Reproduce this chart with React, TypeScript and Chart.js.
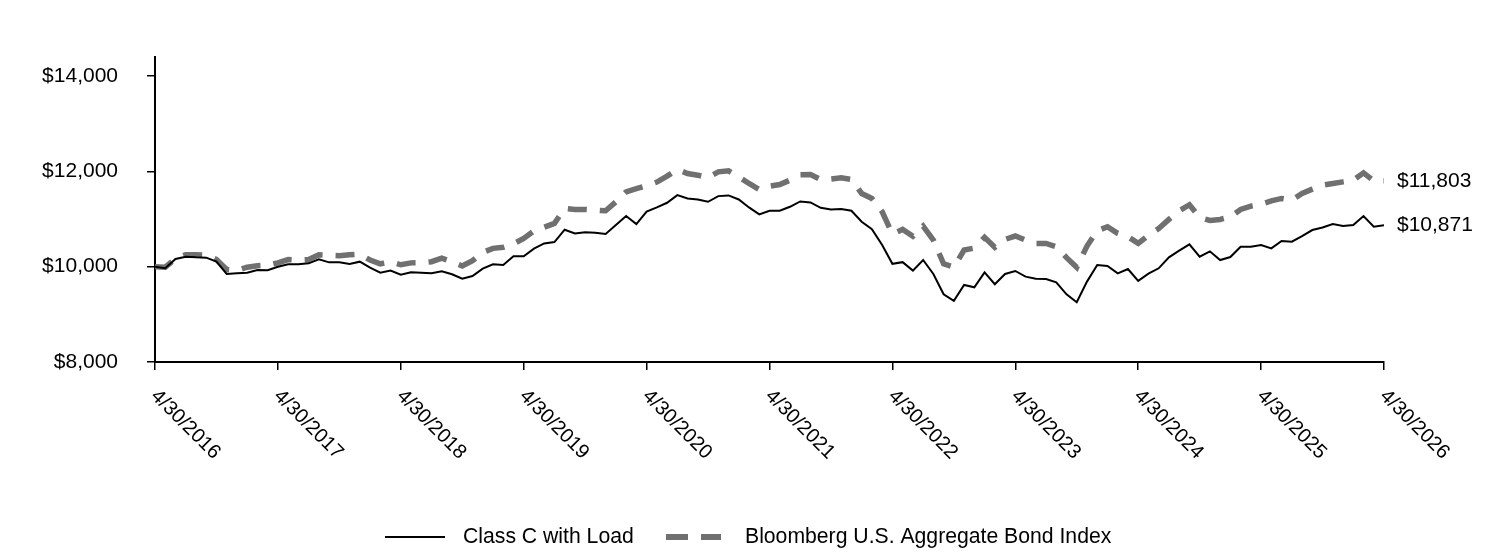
import React, { useEffect, useRef } from "react";
import { Chart, registerables } from "chart.js";

Chart.register(...registerables);

// ---- Data (monthly, 4/30/2016 .. 4/30/2026) ----
const classC: number[] = [
  10000, 9966, 10161, 10210, 10196, 10189, 10105, 9847, 9861, 9875, 9931, 9924,
  10000, 10050, 10050, 10070, 10154, 10091, 10091, 10057, 10105, 9980, 9875, 9917,
  9833, 9882, 9875, 9861, 9903, 9840, 9749, 9805, 9959, 10050, 10036, 10217,
  10217, 10378, 10489, 10517, 10776, 10699, 10720, 10713, 10685, 10873, 11062, 10894,
  11155, 11245, 11341, 11501, 11432, 11411, 11362, 11481, 11495, 11411, 11243, 11097,
  11173, 11173, 11257, 11369, 11348, 11236, 11201, 11208, 11173, 10943, 10789, 10454,
  10060, 10095, 9917, 10140, 9847, 9421, 9282, 9617, 9568, 9882, 9631, 9847,
  9910, 9791, 9749, 9743, 9673, 9421, 9254, 9687, 10036, 10015, 9861, 9952,
  9704, 9855, 9966, 10196, 10336, 10468, 10210, 10322, 10140, 10203, 10419, 10419,
  10454, 10385, 10538, 10524, 10643, 10769, 10824, 10894, 10852, 10873, 11062, 10838,
  10871,
];

const bloomberg: number[] = [
  10000, 9990, 10170, 10250, 10250, 10245, 10150, 9940, 9920, 9990, 10020, 10030,
  10080, 10150, 10140, 10150, 10250, 10240, 10230, 10250, 10260, 10140, 10060, 10100,
  10040, 10080, 10085, 10105, 10180, 10105, 10015, 10126, 10300, 10385, 10406, 10480,
  10594, 10748, 10830, 10908, 11222, 11200, 11201, 11187, 11173, 11360, 11571, 11640,
  11700, 11775, 11900, 12039, 11955, 11920, 11871, 11990, 12011, 11885, 11746, 11620,
  11690, 11725, 11816, 11930, 11934, 11830, 11840, 11864, 11830, 11536, 11432, 11152,
  10685, 10783, 10640, 10852, 10559, 10060, 9990, 10350, 10390, 10615, 10406, 10573,
  10643, 10559, 10489, 10489, 10420, 10189, 9987, 10434, 10755, 10838, 10699, 10629,
  10489, 10660, 10800, 10992, 11173, 11300, 11034, 10970, 10992, 11048, 11200, 11271,
  11313, 11380, 11432, 11397, 11536, 11627, 11711, 11746, 11780, 11815, 11969, 11802,
  11803,
];

const xTickLabels: string[] = [
  "4/30/2016", "4/30/2017", "4/30/2018", "4/30/2019", "4/30/2020", "4/30/2021",
  "4/30/2022", "4/30/2023", "4/30/2024", "4/30/2025", "4/30/2026",
];
const yTickValues: number[] = [8000, 10000, 12000, 14000];
const seriesNames: string[] = ["Class C with Load", "Bloomberg U.S. Aggregate Bond Index"];

const FONT = '"Liberation Sans", Arial, Helvetica, sans-serif';
const GRAY = "#707070";
const fmt = (v: number) => "$" + v.toLocaleString("en-US");

const textPlugin = {
  id: "customText",
  afterDraw(chart: any) {
    const ctx = chart.ctx as CanvasRenderingContext2D;
    const xs = chart.scales.x;
    const ys = chart.scales.y;
    const area = chart.chartArea;
    ctx.save();
    ctx.fillStyle = "#000";
    // rotated x labels
    ctx.font = `20px ${FONT}`;
    xTickLabels.forEach((lab, k) => {
      const px = xs.getPixelForValue(k * 12);
      ctx.save();
      ctx.translate(px - 1, area.bottom + 31);
      ctx.rotate(Math.PI / 4);
      ctx.textAlign = "left";
      ctx.textBaseline = "middle";
      ctx.fillText(lab, 0, 0);
      ctx.restore();
    });
    // end labels
    ctx.font = `21px ${FONT}`;
    ctx.textAlign = "left";
    ctx.textBaseline = "middle";
    ctx.fillText(fmt(bloomberg[bloomberg.length - 1]), area.right + 13, ys.getPixelForValue(bloomberg[bloomberg.length - 1]));
    ctx.fillText(fmt(classC[classC.length - 1]), area.right + 13, ys.getPixelForValue(classC[classC.length - 1]));
    // legend
    const ly = 537;
    ctx.font = `21.2px ${FONT}`;
    ctx.strokeStyle = "#000";
    ctx.lineWidth = 2;
    ctx.beginPath();
    ctx.moveTo(385, ly);
    ctx.lineTo(445, ly);
    ctx.stroke();
    ctx.fillText(seriesNames[0], 463, ly);
    ctx.strokeStyle = GRAY;
    ctx.lineWidth = 6;
    ctx.setLineDash([22, 13]);
    ctx.beginPath();
    ctx.moveTo(666, ly);
    ctx.lineTo(721, ly);
    ctx.stroke();
    ctx.setLineDash([]);
    ctx.fillText(seriesNames[1], 745, ly);
    ctx.restore();
  },
};

export default function App() {
  const ref = useRef<HTMLCanvasElement | null>(null);
  useEffect(() => {
    if (!ref.current) return;
    const chart = new Chart(ref.current, {
      type: "line",
      data: {
        datasets: [
          {
            label: seriesNames[0],
            data: classC.map((v, i) => ({ x: i, y: v })),
            borderColor: "#000",
            borderWidth: 2,
            pointRadius: 0,
            tension: 0,
            fill: false,
            order: 1,
          },
          {
            label: seriesNames[1],
            data: bloomberg.map((v, i) => ({ x: i, y: v })),
            borderColor: GRAY,
            borderWidth: 5.5,
            borderDash: [19, 13],
            borderCapStyle: "butt",
            pointRadius: 0,
            tension: 0,
            fill: false,
            order: 2,
          },
        ],
      },
      options: {
        animation: false,
        responsive: false,
        devicePixelRatio: 1,
        layout: { padding: { left: 0, right: 128, top: 57, bottom: 0 } },
        plugins: { legend: { display: false }, tooltip: { enabled: false } },
        scales: {
          x: {
            type: "linear",
            min: 0,
            max: classC.length - 1,
            afterBuildTicks: (s: any) => {
              s.ticks = xTickLabels.map((_, k) => ({ value: k * 12 }));
            },
            afterFit: (s: any) => {
              s.height = 190;
            },
            ticks: { display: false },
            grid: { display: true, drawOnChartArea: false, drawTicks: true, tickLength: 8, color: "#000", lineWidth: 1.5 },
            border: { display: true, color: "#000", width: 2 },
          },
          y: {
            type: "linear",
            min: 8000,
            max: 14400,
            afterBuildTicks: (s: any) => {
              s.ticks = yTickValues.map((v) => ({ value: v }));
            },
            afterFit: (s: any) => {
              s.width = 155;
            },
            ticks: {
              padding: 29,
              color: "#000",
              font: { family: FONT, size: 21 },
              callback: (v: any) => fmt(Number(v)),
            },
            grid: { display: true, drawOnChartArea: false, drawTicks: true, tickLength: 8, color: "#000", lineWidth: 1.5 },
            border: { display: true, color: "#000", width: 2 },
          },
        },
      },
      plugins: [textPlugin],
    });
    return () => chart.destroy();
  }, []);
  return (
    <div style={{ position: "absolute", left: 0, top: 0, width: 1512, height: 552, background: "#fff" }}>
      <canvas ref={ref} width={1512} height={552} style={{ display: "block", width: 1512, height: 552 }} />
    </div>
  );
}
